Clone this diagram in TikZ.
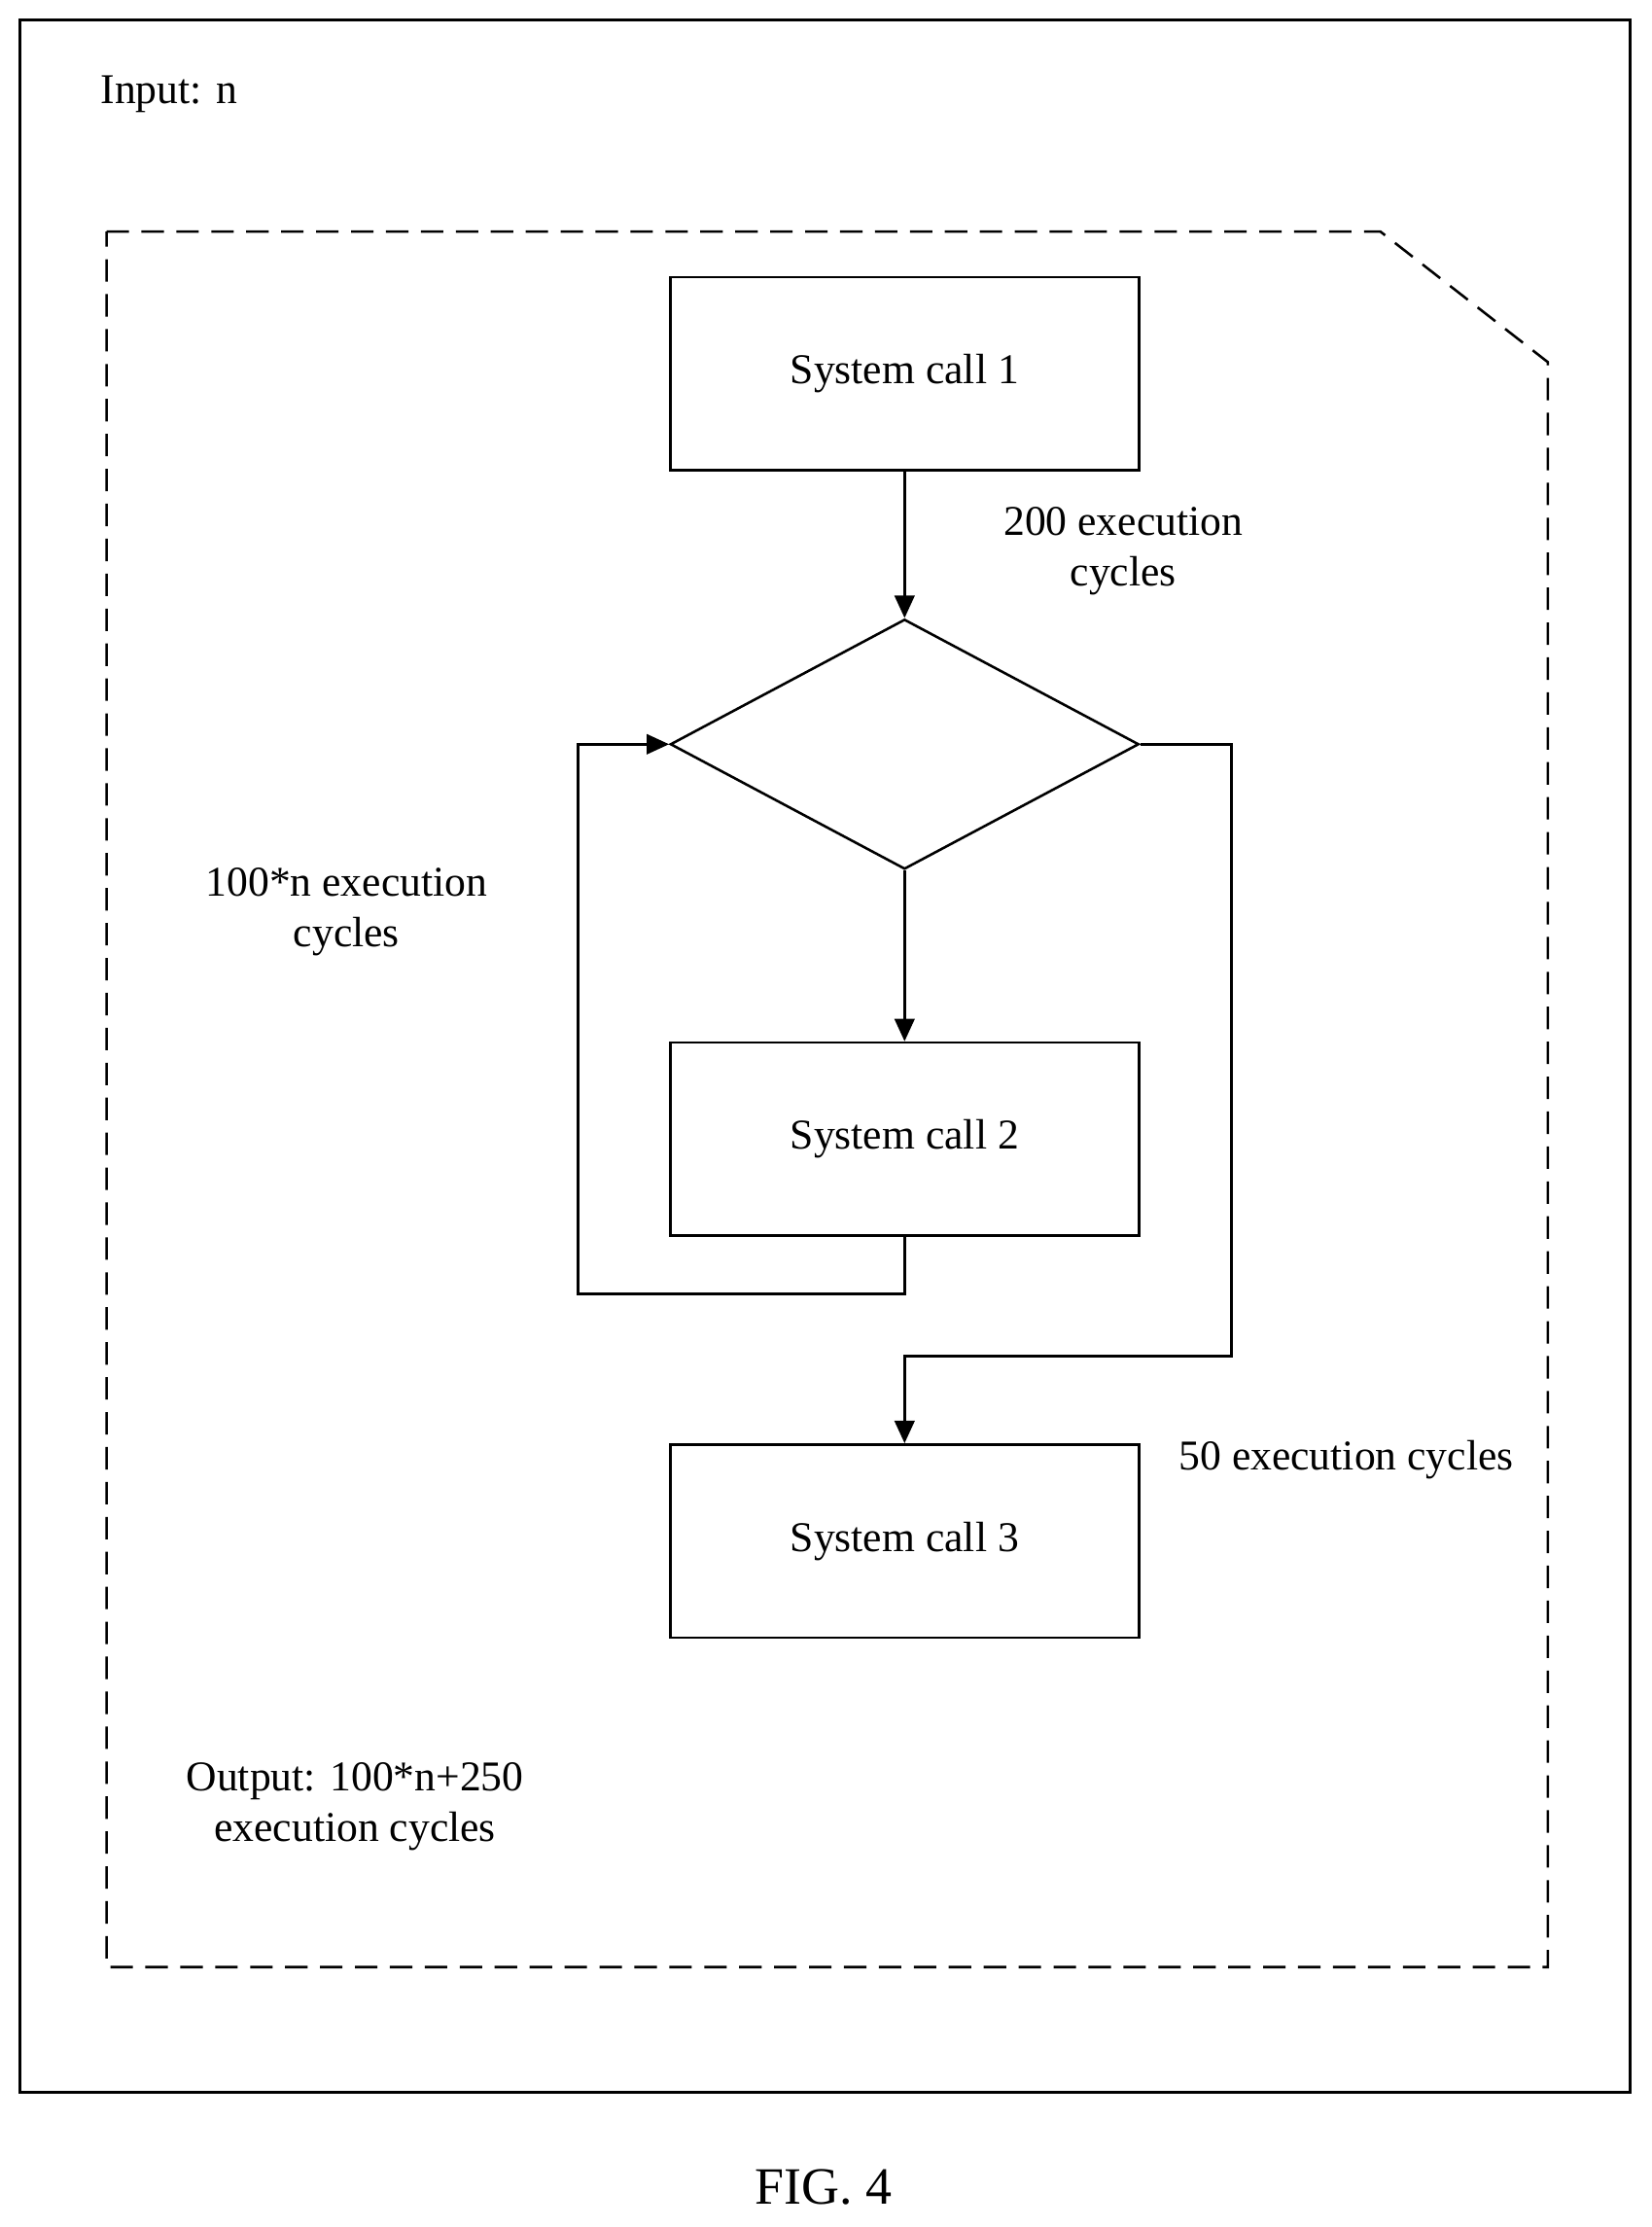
\documentclass[tikz,border=0pt]{standalone}
\usepackage{fontspec}
\setmainfont{Liberation Serif}
\usetikzlibrary{shapes.geometric,arrows.meta}

\begin{document}
\begin{tikzpicture}[
            x=0.02cm, y=-0.02cm,
            font=\fontsize{17}{20}\selectfont,
            line width=1pt,
            call/.style={rectangle, draw, minimum height=2.72cm, minimum width=6.6cm},
            decision/.style={diamond, draw, minimum height=3.52cm, minimum width=6.6cm, inner sep=0pt},
            arrow/.style={-{Triangle[length=9pt,width=8pt]}},
            label/.style={align=center}
        ]
            \useasboundingbox (0,0) rectangle (1163,1568);
            \draw (14,14) rectangle (1148,1473);
            \draw[dash pattern=on 9pt off 5pt] (75,163) -- (972,163) -- (1090,255) -- (1090,1385) -- (75,1385) -- cycle;

            \node[call] (S1) at (637,263) {System call 1};
            \node[decision] (D) at (637,524) {};
            \node[call] (S2) at (637,802) {System call 2};
            \node[call] (S3) at (637,1085) {System call 3};
            \coordinate (L) at (407,911);
            \coordinate (R) at (867,955);

            \draw[arrow] (S1) -- (D);
            \draw[arrow] (D) -- (S2);
            \draw[arrow] (S2.south) |- (L) |- (D.west);
            \draw[arrow] (D.east) -| (R) -| (S3.north);

            \node[anchor=west, inner sep=0pt] (in) at (70,66) {Input: n};
            \node[label] (c200) at (791,388) {200 execution\\cycles};
            \node[label] (c100) at (244,642) {100*n execution\\cycles};
            \node[label] (c50) at (948,1028) {50 execution cycles};
            \node[label] (out) at (250,1272) {Output: 100*n+250\\execution cycles};
            \node[font=\fontsize{21}{25}\selectfont] (fig) at (580,1540) {FIG. 4};
        \end{tikzpicture}
\end{document}
